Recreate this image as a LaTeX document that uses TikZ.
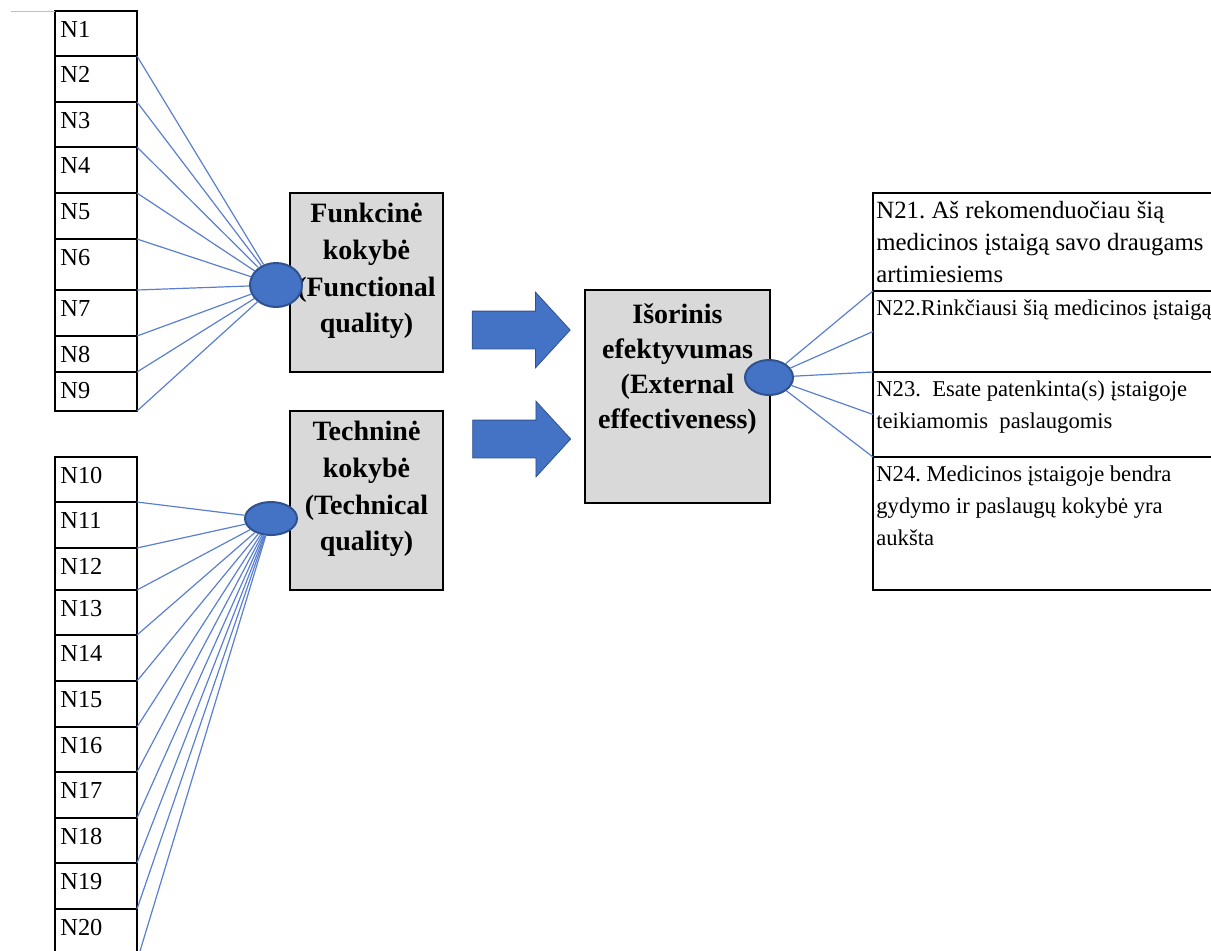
\documentclass[tikz,border=0pt]{standalone}
\usepackage{fontspec}
\setmainfont{Liberation Serif}
\frenchspacing
\usetikzlibrary{shapes,arrows,positioning,calc,arrows.meta}
\definecolor{ovalblue}{HTML}{4472C4}
\definecolor{ovalline}{HTML}{2F528F}
\definecolor{boxgray}{HTML}{D9D9D9}
\definecolor{linkblue}{HTML}{5A7FCF}
\tikzset{
  nbox/.style={draw, line width=0.8pt, fill=white, minimum width=41pt, inner sep=0pt, outer sep=0pt},
  nlbl/.style={anchor=north west, inner sep=0pt, xshift=2.5pt, yshift=-5pt, font=\fontsize{12.2}{14}\selectfont},
  qbox/.style={draw, line width=1pt, fill=boxgray, inner sep=0pt, outer sep=0pt},
  qlbl/.style={anchor=north, align=center, inner sep=0pt, yshift=-5pt, font=\bfseries\fontsize{14}{18.3}\selectfont},
  rbox/.style={draw, line width=0.8pt, fill=white, minimum width=183.5pt, inner sep=0pt, outer sep=0pt},
  rlbl/.style={anchor=north west, align=left, inner sep=0pt, xshift=1.5pt, yshift=-4pt, font=\fontsize{11.3}{16}\selectfont},
  oval/.style={ellipse, draw=ovalline, line width=1pt, fill=ovalblue, inner sep=0pt},
  link/.style={draw=linkblue, line width=0.6pt},
  bigarrow/.style={single arrow, draw=ovalline, line width=0.4pt, fill=ovalblue, inner xsep=0pt, inner ysep=9.25pt,
    minimum height=49pt, single arrow head extend=9.5pt, single arrow tip angle=95}
}
\begin{document}
\begin{tikzpicture}[x=0.5pt, y=-0.5pt]
    \useasboundingbox (0,0) rectangle (1211,950);
    \clip (0,0) rectangle (1211,950);

    \node[nbox, anchor=north west, minimum height=22.5pt, label={[nlbl]north west:N1}] (n1) at (55,11) {};
    \node[nbox, below=0pt of n1, minimum height=23pt, label={[nlbl]north west:N2}] (n2) {};
    \node[nbox, below=0pt of n2, minimum height=22.5pt, label={[nlbl]north west:N3}] (n3) {};
    \node[nbox, below=0pt of n3, minimum height=23pt, label={[nlbl]north west:N4}] (n4) {};
    \node[nbox, below=0pt of n4, minimum height=23pt, label={[nlbl]north west:N5}] (n5) {};
    \node[nbox, below=0pt of n5, minimum height=25.5pt, label={[nlbl]north west:N6}] (n6) {};
    \node[nbox, below=0pt of n6, minimum height=23pt, label={[nlbl]north west:N7}] (n7) {};
    \node[nbox, below=0pt of n7, minimum height=18pt, label={[nlbl]north west:N8}] (n8) {};
    \node[nbox, below=0pt of n8, minimum height=19.5pt, label={[nlbl]north west:N9}] (n9) {};
    \coordinate (rule) at (11,11);
    \draw[black!25, line width=0.5pt] (rule) -- (n1.north west);

    \node[nbox, anchor=north west, minimum height=22.5pt, label={[nlbl]north west:N10}] (n10) at (55,457) {};
    \node[nbox, below=0pt of n10, minimum height=23pt, label={[nlbl]north west:N11}] (n11) {};
    \node[nbox, below=0pt of n11, minimum height=21pt, label={[nlbl]north west:N12}] (n12) {};
    \node[nbox, below=0pt of n12, minimum height=22.5pt, label={[nlbl]north west:N13}] (n13) {};
    \node[nbox, below=0pt of n13, minimum height=23pt, label={[nlbl]north west:N14}] (n14) {};
    \node[nbox, below=0pt of n14, minimum height=23pt, label={[nlbl]north west:N15}] (n15) {};
    \node[nbox, below=0pt of n15, minimum height=22.5pt, label={[nlbl]north west:N16}] (n16) {};
    \node[nbox, below=0pt of n16, minimum height=23pt, label={[nlbl]north west:N17}] (n17) {};
    \node[nbox, below=0pt of n17, minimum height=22.5pt, label={[nlbl]north west:N18}] (n18) {};
    \node[nbox, below=0pt of n18, minimum height=23pt, label={[nlbl]north west:N19}] (n19) {};
    \node[nbox, below=0pt of n19, minimum height=26pt, label={[nlbl]north west:N20}] (n20) {};

    \node[qbox, minimum width=76.5pt, minimum height=89.5pt,
      label={[qlbl]north:Funkcinė\\kokybė\\(Functional\\quality)}] (fbox) at (366.5,282.5) {};
    \node[qbox, minimum width=76.5pt, minimum height=89.5pt,
      label={[qlbl]north:Techninė\\kokybė\\(Technical\\quality)}] (tbox) at (366.5,500.5) {};
    \node[qbox, minimum width=92.5pt, minimum height=106.5pt,
      label={[qlbl, yshift=-1.8pt, font=\bfseries\fontsize{14}{17.4}\selectfont]north:Išorinis\\efektyvumas\\(External\\effectiveness)}] (ebox) at (677.5,396.5) {};

    \node[bigarrow] (farrow) at (512.5,330) {};
    \node[bigarrow] (tarrow) at (513,439) {};

    \node[rbox, anchor=north west, minimum height=49pt,
      label={[rlbl, font=\fontsize{12.4}{16}\selectfont]north west:N21. Aš rekomenduočiau šią\\medicinos įstaigą savo draugams\\artimiesiems}] (n21) at (873,193) {};
    \node[rbox, below=0pt of n21, minimum height=40.5pt,
      label={[rlbl]north west:N22.Rinkčiausi šią medicinos įstaigą}] (n22) {};
    \node[rbox, below=0pt of n22, minimum height=42.5pt,
      label={[rlbl]north west:N23.\ \ Esate patenkinta(s) įstaigoje\\teikiamomis\ \ paslaugomis}] (n23) {};
    \node[rbox, below=0pt of n23, minimum height=66.5pt,
      label={[rlbl]north west:N24. Medicinos įstaigoje bendra\\gydymo ir paslaugų kokybė yra\\aukšta}] (n24) {};

    \node[oval, minimum width=26pt, minimum height=22pt] (fq) at (276,285) {};
    \node[oval, minimum width=26pt, minimum height=16.5pt] (tq) at (271,518.5) {};
    \node[oval, minimum width=24pt, minimum height=17.5pt] (eq) at (769,377.5) {};

    \foreach \i in {1,...,9} \draw[link] (n\i.south east) -- (fq);
    \foreach \i in {10,...,20} \draw[link] (n\i.south east) -- (tq);
    \draw[link] (eq) -- (n21.south west);
    \draw[link] (eq) -- (n22.west);
    \draw[link] (eq) -- (n23.north west);
    \draw[link] (eq) -- (n23.west);
    \draw[link] (eq) -- (n23.south west);
\end{tikzpicture}
\end{document}
